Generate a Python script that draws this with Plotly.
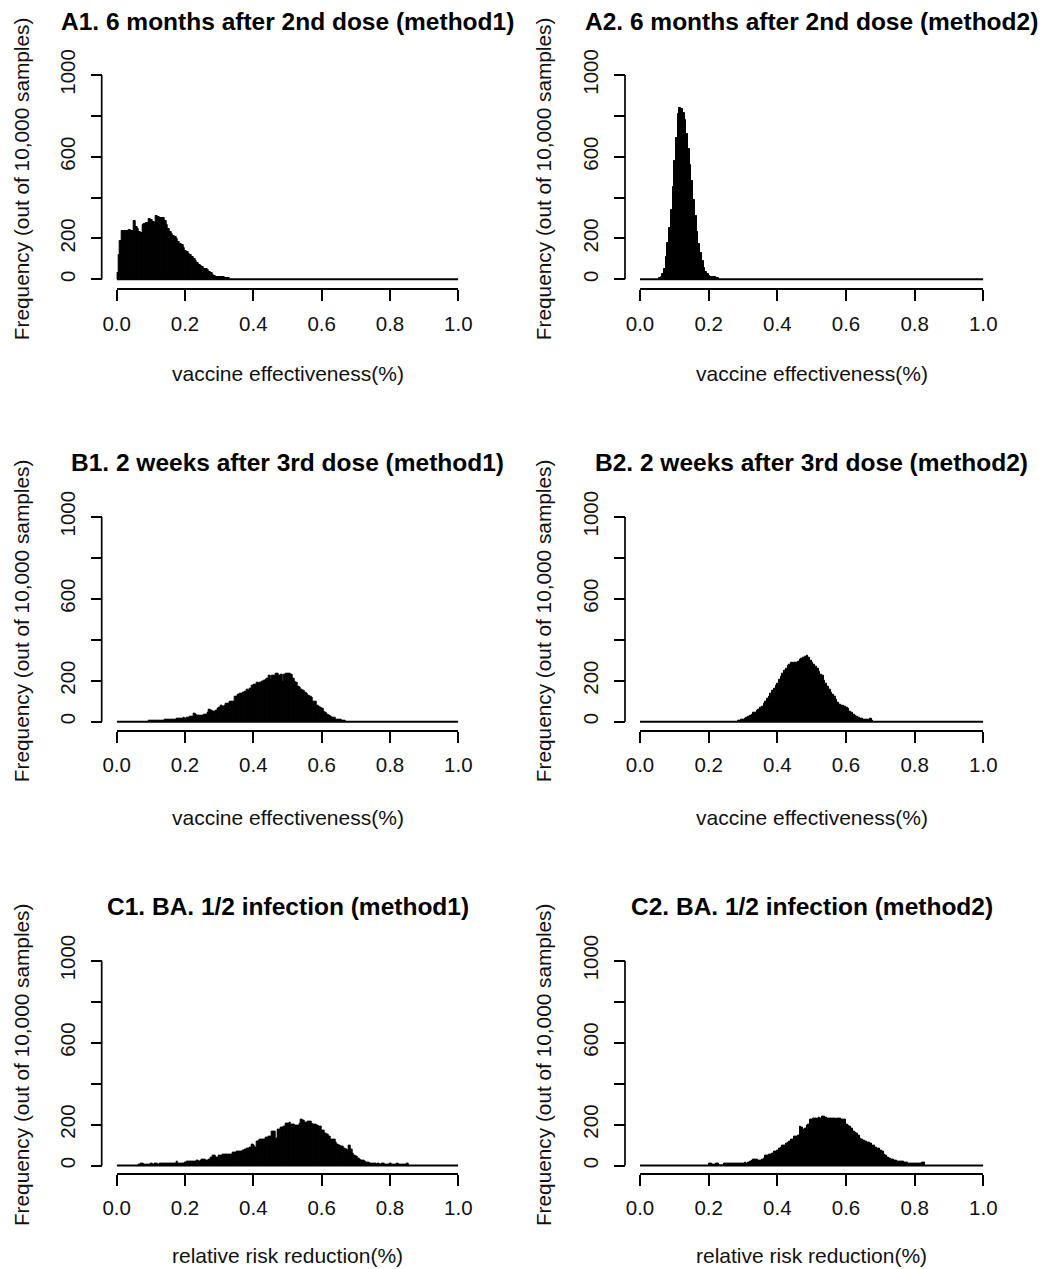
import plotly.graph_objects as go

# ---------------- data ----------------
BIN_WIDTH = 0.005
BREAK_MIN = 0.0
BREAK_MAX = 1.0

x_tick_vals = [0.0, 0.2, 0.4, 0.6, 0.8, 1.0]
x_tick_text = ["0.0", "0.2", "0.4", "0.6", "0.8", "1.0"]
y_tick_vals = [0, 200, 400, 600, 800, 1000]
y_tick_text = ["0", "200", "", "600", "", "1000"]

panel_titles = [
    "A1. 6 months after 2nd dose (method1)",
    "A2. 6 months after 2nd dose (method2)",
    "B1. 2 weeks after 3rd dose (method1)",
    "B2. 2 weeks after 3rd dose (method2)",
    "C1. BA. 1/2 infection (method1)",
    "C2. BA. 1/2 infection (method2)",
]
x_titles = [
    "vaccine effectiveness(%)", "vaccine effectiveness(%)",
    "vaccine effectiveness(%)", "vaccine effectiveness(%)",
    "relative risk reduction(%)", "relative risk reduction(%)",
]
y_title = "Frequency (out of 10,000 samples)"

# counts per 0.005-wide bin, starting at the given bin index
a1_first_bin = 0
a1_counts = [33, 120, 188, 237, 235, 238, 236, 240, 234, 237,
             283, 255, 248, 232, 228, 266, 272, 278, 276, 294,
             292, 280, 276, 310, 306, 302, 300, 302, 285, 266,
             245, 230, 222, 212, 205, 196, 185, 171, 168, 155,
             139, 132, 123, 120, 108, 98, 88, 82, 70, 65,
             62, 50, 49, 45, 35, 30, 22, 18, 12, 11,
             10, 10, 9, 8, 7, 5]

a2_first_bin = 11
a2_counts = [5, 10, 25, 50, 110, 180, 250, 340, 450, 580,
             690, 810, 840, 835, 815, 780, 710, 640, 560, 480,
             390, 310, 230, 175, 130, 90, 55, 35, 24, 16,
             12, 10, 9, 7, 5]

b1_first_bin = 19
b1_counts = [4, 5, 4, 6, 5, 7, 6, 5, 7, 8,
             8, 10, 9, 11, 12, 10, 13, 16, 15, 17,
             18, 16, 20, 21, 22, 24, 38, 36, 28, 27,
             30, 29, 32, 34, 45, 57, 55, 49, 50, 52,
             65, 66, 77, 75, 79, 90, 88, 98, 97, 100,
             120, 122, 134, 136, 138, 142, 145, 155, 152, 163,
             175, 180, 182, 188, 186, 190, 196, 198, 204, 210,
             224, 207, 224, 222, 234, 236, 226, 228, 196, 229,
             234, 236, 232, 230, 212, 195, 188, 170, 166, 155,
             150, 140, 138, 125, 122, 118, 100, 96, 80, 75,
             66, 62, 50, 46, 35, 30, 22, 20, 18, 12,
             11, 10, 8, 7, 6]

b2_first_bin = 57
b2_counts = [5, 7, 8, 12, 16, 20, 22, 30, 34, 42,
             46, 55, 58, 68, 75, 87, 100, 110, 122, 138,
             150, 163, 175, 185, 204, 220, 235, 248, 261, 272,
             280, 286, 285, 288, 289, 292, 302, 308, 310, 319,
             320, 312, 296, 290, 278, 268, 258, 245, 230, 222,
             198, 185, 172, 158, 142, 132, 122, 105, 95, 82,
             78, 77, 75, 66, 62, 50, 46, 35, 31, 22,
             20, 15, 14, 12, 11, 9, 8, 13, 3]

c1_first_bin = 13
c1_counts = [4, 11, 11, 3, 3, 4, 6, 8, 7, 8,
             9, 7, 8, 8, 9, 8, 9, 10, 8, 9,
             10, 11, 20, 12, 11, 12, 11, 13, 20, 18,
             20, 21, 19, 20, 22, 21, 22, 31, 28, 25,
             26, 30, 38, 47, 47, 41, 41, 51, 50, 52,
             56, 56, 52, 54, 55, 64, 62, 66, 69, 68,
             70, 72, 80, 82, 85, 88, 101, 100, 90, 118,
             120, 126, 128, 129, 137, 135, 142, 140, 167, 165,
             134, 175, 176, 183, 186, 190, 207, 205, 208, 200,
             199, 195, 194, 196, 205, 224, 220, 211, 212, 216,
             214, 205, 199, 198, 194, 192, 188, 172, 170, 155,
             152, 140, 129, 126, 125, 110, 101, 98, 94, 93,
             85, 77, 75, 96, 80, 60, 50, 44, 36, 31,
             26, 22, 20, 16, 14, 12, 11, 8, 8, 7,
             8, 7, 8, 8, 7, 6, 7, 8, 6, 7,
             6, 8, 5, 5, 4, 5, 4, 11]

c2_first_bin = 40
c2_counts = [11, 11, 3, 3, 11, 11, 0, 0, 0, 8,
             9, 10, 8, 11, 10, 9, 12, 11, 10, 12,
             11, 13, 12, 14, 20, 22, 28, 31, 30, 25,
             26, 28, 32, 48, 50, 52, 55, 58, 66, 69,
             72, 85, 88, 96, 100, 109, 112, 118, 125, 129,
             140, 142, 145, 188, 186, 178, 180, 194, 200, 224,
             226, 227, 228, 230, 232, 230, 237, 237, 235, 230,
             231, 229, 227, 228, 226, 227, 228, 226, 224, 222,
             200, 196, 188, 180, 167, 160, 155, 145, 134, 128,
             123, 118, 113, 110, 109, 100, 96, 88, 85, 82,
             72, 66, 55, 50, 40, 36, 30, 28, 26, 22,
             20, 20, 19, 18, 17, 13, 12, 11, 11, 10,
             11, 10, 8, 8, 15, 14]

panel_first_bins = [a1_first_bin, a2_first_bin, b1_first_bin,
                    b2_first_bin, c1_first_bin, c2_first_bin]
panel_counts = [a1_counts, a2_counts, b1_counts, b2_counts, c1_counts, c2_counts]

# ---------------- layout geometry (pixels) ----------------
W, H = 1046, 1269
col_x0 = [116.7, 640.0]      # pixel of x=0
col_x1 = [458.3, 983.3]      # pixel of x=1
col_yaxis = [101.7, 625.0]   # y-axis line pixel
col_ytitle = [21.0, 543.0]
row_y0 = [279.3, 721.7, 1165.6]     # pixel of y=0
row_y1000 = [75.0, 516.7, 960.6]    # pixel of y=1000
row_xaxis = [289.3, 730.7, 1174.0]  # x-axis line pixel
row_title = [21.0, 463.0, 906.0]
row_xtitle = [373.0, 817.0, 1255.0]
Y_PAD = 12  # small data-unit pad below zero so the baseline is not clipped

FONT = "Liberation Sans, Arial, Helvetica, sans-serif"

def px(xp):
    return xp / W

def py(yp):
    return 1 - yp / H

fig = go.Figure()
annotations = []
layout_axes = {}

for idx in range(6):
    r, c = divmod(idx, 2)
    sfx = "" if idx == 0 else str(idx + 1)
    xa, ya = "x" + sfx, "y" + sfx
    first = panel_first_bins[idx]
    counts = panel_counts[idx]
    centers = [BREAK_MIN + (first + i + 0.5) * BIN_WIDTH for i in range(len(counts))]
    fig.add_trace(go.Bar(
        x=centers, y=counts, width=BIN_WIDTH,
        marker=dict(color="black", line=dict(color="black", width=1.0)),
        xaxis=xa, yaxis=ya, hoverinfo="skip",
    ))
    fig.add_trace(go.Scatter(
        x=[BREAK_MIN, BREAK_MAX], y=[0, 0], mode="lines",
        line=dict(color="black", width=2.0), cliponaxis=False,
        xaxis=xa, yaxis=ya, hoverinfo="skip",
    ))

    pxs_per_unit = (row_y0[r] - row_y1000[r]) / 1000.0
    dom_bottom = row_y0[r] + Y_PAD * pxs_per_unit

    layout_axes["xaxis" + sfx] = dict(
        domain=[px(col_x0[c]), px(col_x1[c])], range=[BREAK_MIN, BREAK_MAX],
        anchor="free", position=py(row_xaxis[r]), automargin=False,
        showline=True, linecolor="black", linewidth=1.7,
        ticks="outside", ticklen=11, tickwidth=1.7, tickcolor="black",
        tickvals=x_tick_vals, ticktext=x_tick_text,
        tickfont=dict(family=FONT, size=20.5, color="#111"),
        ticklabelstandoff=5,
        showgrid=False, zeroline=False, fixedrange=True,
    )
    layout_axes["yaxis" + sfx] = dict(
        domain=[py(dom_bottom), py(row_y1000[r])], range=[-Y_PAD, 1000],
        anchor="free", position=px(col_yaxis[c]), automargin=False,
        showline=False,
        ticks="outside", ticklen=11, tickwidth=1.7, tickcolor="black",
        tickvals=y_tick_vals, ticktext=y_tick_text, tickangle=-90,
        tickfont=dict(family=FONT, size=20.5, color="#111"),
        ticklabelstandoff=8,
        showgrid=False, zeroline=False, fixedrange=True,
    )
    # y axis line from first to last tick (0 .. 1000), as in R's axis()
    fig.add_trace(go.Scatter(
        x=[0, 0], y=[y_tick_vals[0], y_tick_vals[-1]], mode="lines",
        line=dict(color="black", width=1.7), cliponaxis=False,
        xaxis="x" + str(idx + 7), yaxis=ya, hoverinfo="skip",
    ))
    layout_axes["xaxis" + str(idx + 7)] = dict(
        domain=[px(col_yaxis[c]) - 0.002, px(col_yaxis[c]) + 0.002], range=[-1, 1],
        anchor=ya, visible=False, fixedrange=True,
    )

    cx = (col_x0[c] + col_x1[c]) / 2
    annotations.append(dict(
        text="<b>" + panel_titles[idx] + "</b>", x=px(cx), y=py(row_title[r]),
        xref="paper", yref="paper", xanchor="center", yanchor="middle",
        showarrow=False, font=dict(family=FONT, size=24.5, color="black"),
    ))
    annotations.append(dict(
        text=x_titles[idx], x=px(cx), y=py(row_xtitle[r]),
        xref="paper", yref="paper", xanchor="center", yanchor="middle",
        showarrow=False, font=dict(family=FONT, size=21, color="#111"),
    ))
    annotations.append(dict(
        text=y_title, x=px(col_ytitle[c]), y=py((row_y0[r] + row_y1000[r]) / 2 + 2),
        xref="paper", yref="paper", xanchor="center", yanchor="middle",
        textangle=-90, showarrow=False,
        font=dict(family=FONT, size=20.8, color="#111"),
    ))

fig.update_layout(
    width=W, height=H, margin=dict(l=0, r=0, t=0, b=0, autoexpand=False),
    paper_bgcolor="white", plot_bgcolor="white",
    showlegend=False, barmode="overlay", bargap=0,
    annotations=annotations, **layout_axes,
)

fig.write_html("out.html")
